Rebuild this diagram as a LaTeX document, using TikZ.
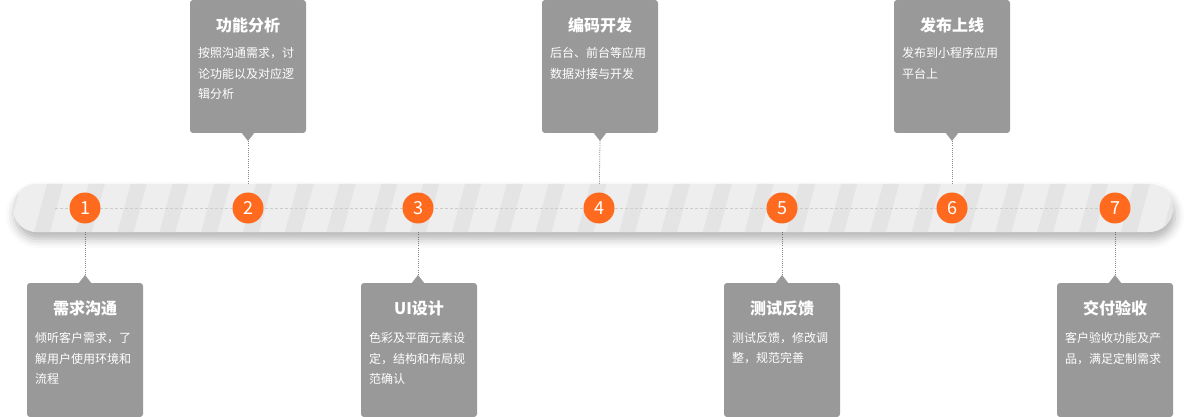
\documentclass[tikz,border=0pt]{standalone}
\usepackage{fontspec}
\setmainfont{Noto Sans CJK SC}
\usetikzlibrary{shadows.blur}
\definecolor{boxgray}{HTML}{999999}
\definecolor{orng}{HTML}{FF6A1E}
\definecolor{barbg}{HTML}{EEEEEE}
\definecolor{stripec}{HTML}{E4E4E4}
\definecolor{dashc}{HTML}{CCCCCC}
\definecolor{connc}{HTML}{8A8A8A}
\begin{document}
\begin{tikzpicture}[x=1pt,y=-1pt,
  box/.style={fill=boxgray, rounded corners=3pt, minimum width=116pt, inner sep=0pt, draw=none},
  topbox/.style={box, minimum height=133pt},
  botbox/.style={box, minimum height=134pt},
  ptr/.style={fill=boxgray},
  ttl/.style={text=white, font=\fontsize{16}{16}\selectfont\bfseries, inner sep=0pt},
  body/.style={text=white, font=\fontsize{12}{20.7}\selectfont, align=left, text width=104pt, inner sep=0pt, anchor=north west},
  num/.style={circle, fill=orng, minimum size=31pt, inner sep=0pt, text=white, font=\fontsize{18}{18}\selectfont},
  conn/.style={draw=connc, line width=0.8pt, dash pattern=on 1pt off 1.2pt},
  dashln/.style={draw=dashc, line width=0.6pt, dash pattern=on 3pt off 2pt},
]
\useasboundingbox (0,0) rectangle (1200,417);

% circle centres
\coordinate (k1) at (85,208);
\coordinate (k2) at (248,208);
\coordinate (k3) at (418,208);
\coordinate (k4) at (599,208);
\coordinate (k5) at (782,208);
\coordinate (k6) at (952,208);
\coordinate (k7) at (1115,208);

% boxes (top: 2,4,6 ; bottom: 1,3,5,7)
\node[topbox] (b2) at (248,66.5) {};
\node[topbox] (b4) at (600,66.5) {};
\node[topbox] (b6) at (952,66.5) {};
\node[botbox] (b1) at (85,350) {};
\node[botbox] (b3) at (419,350) {};
\node[botbox] (b5) at (782,350) {};
\node[botbox] (b7) at (1115,350) {};

% pointers
\foreach \i/\x in {2/248,4/600,6/952}{
  \fill[ptr] (\x-7,132) -- (\x+7,132) -- (\x,141) -- cycle;
  \coordinate (p\i) at (\x,141);
}
\foreach \i/\x in {1/85,3/418,5/782,7/1115}{
  \fill[ptr] (\x-7,284) -- (\x+7,284) -- (\x,275) -- cycle;
  \coordinate (p\i) at (\x,275);
}

% connectors (drawn below the bar)
\foreach \i in {1,...,7}{
  \draw[conn] (p\i) -- (k\i);
}

% bar with shadow
\fill[barbg, rounded corners=24pt, blur shadow={shadow xshift=2pt, shadow yshift=-7pt, shadow blur radius=9pt, shadow opacity=30}] (13,184) rectangle (1173,232);
\begin{scope}
  \clip[rounded corners=24pt] (13,184) rectangle (1173,232);
  \fill[barbg] (13,184) rectangle (1173,232);
  \foreach \k in {-2,...,28}{
    \pgfmathsetmacro{\sx}{47+41.8*\k}
    \fill[stripec] (\sx,184) -- (\sx+16,184) -- (\sx+3,232) -- (\sx-13,232) -- cycle;
  }
\end{scope}
\draw[dashln] (55,208) -- (1115,208);

% number circles
\node[num] (c1) at (k1) {1};
\node[num] (c2) at (k2) {2};
\node[num] (c3) at (k3) {3};
\node[num] (c4) at (k4) {4};
\node[num] (c5) at (k5) {5};
\node[num] (c6) at (k6) {6};
\node[num] (c7) at (k7) {7};

% titles
\node[ttl] (t2) at (248,25) {功能分析};
\node[ttl] (t4) at (600,25) {编码开发};
\node[ttl] (t6) at (952,25) {发布上线};
\node[ttl] (t1) at (85,308) {需求沟通};
\node[ttl] (t3) at (419,308) {UI设计};
\node[ttl] (t5) at (782,308) {测试反馈};
\node[ttl] (t7) at (1115,308) {交付验收};

% bodies
\node[body] (d2) at (198,47) {按照沟通需求，讨\\论功能以及对应逻\\辑分析};
\node[body] (d4) at (550,47) {后台、前台等应用\\数据对接与开发};
\node[body] (d6) at (902,47) {发布到小程序应用\\平台上};
\node[body] (d1) at (35,332) {倾听客户需求，了\\解用户使用环境和\\流程};
\node[body] (d3) at (369,332) {色彩及平面元素设\\定，结构和布局规\\范确认};
\node[body] (d5) at (732,332) {测试反馈，修改调\\整，规范完善};
\node[body] (d7) at (1065,332) {客户验收功能及产\\品，满足定制需求};
\end{tikzpicture}
\end{document}
